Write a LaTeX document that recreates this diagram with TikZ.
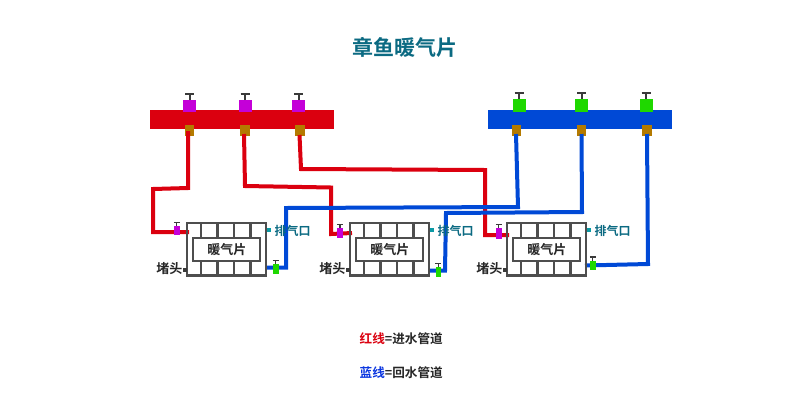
\documentclass[tikz,border=0pt]{standalone}
\usepackage{fontspec}
\setmainfont{Noto Sans CJK SC}[BoldFont={Noto Sans CJK SC Bold}]
\definecolor{pipered}{HTML}{DB000F}
\definecolor{pipeblue}{HTML}{0049D6}
\definecolor{vmag}{HTML}{C400D8}
\definecolor{vgreen}{HTML}{1FD800}
\definecolor{brass}{HTML}{B47A00}
\definecolor{tealt}{HTML}{0B6A82}
\definecolor{tealp}{HTML}{0A9AA5}
\definecolor{dk}{HTML}{3A3A3A}
\definecolor{legblue}{HTML}{0A35E0}
\tikzset{
 x=1pt,y=-1pt,
 box/.style={inner sep=0,outer sep=0,draw=none,anchor=north west},
 redpipe/.style={draw=pipered,line width=4pt,miter limit=10},
 bluepipe/.style={draw=pipeblue,line width=4pt,miter limit=10},
 lbl/.style={font=\bfseries\fontsize{13}{13}\selectfont,text=black!85,inner sep=0},
 leg/.style={font=\bfseries\fontsize{12.6}{13}\selectfont,text=black!85,inner sep=0},
 vent/.style={font=\bfseries\fontsize{12}{12}\selectfont,text=tealt,inner sep=0},
 handle/.style={draw=dk,line width=2pt},
 rad/.style={draw=dk!90,line width=2.2pt},
}
\newcommand{\rect}[6]{\node[box,fill=#2,minimum width=#5pt-#3pt,minimum height=#6pt-#4pt] (#1) at (#3,#4) {};}
\newcommand{\bigvalve}[6]{% name colour x1 y1 x2 y2
 \rect{#1}{#2}{#3}{#4}{#5}{#6}
 \draw[handle] (#1.north) -- ++(0,-6);
 \draw[handle,line width=2.4pt] ([xshift=-4.5pt,yshift=6pt]#1.north) -- ([xshift=4.5pt,yshift=6pt]#1.north);}
\newcommand{\smallvalve}[6]{%
 \rect{#1}{#2}{#3}{#4}{#5}{#6}
 \draw[handle,line width=1.2pt] (#1.north) -- ++(0,-3.5);
 \draw[handle,line width=1.4pt] ([xshift=-3pt,yshift=3.5pt]#1.north) -- ([xshift=3pt,yshift=3.5pt]#1.north);}
\newcommand{\radiator}[2]{% name, left x
 \begin{scope}[shift={(#2,0)}]
 \node[box,rad,minimum width=79pt,minimum height=52.5pt] (#1) at (0,223) {};
 \foreach \v in {14,30.5,47,63.5}{
  \draw[rad] (\v,223) -- (\v,275.5);}
 \node[box,rad,fill=white,minimum width=67pt,minimum height=23.5pt] (#1in) at (6.3,237.7) {};
 \node[lbl] at (#1in.center) {暖气片};
 \node[box,fill=tealp,minimum width=4pt,minimum height=3.5pt] (#1vent) at (80,228) {};
 \node[box,fill=dk,minimum width=4pt,minimum height=3.5pt] (#1plug) at (-4,268) {};
 \node[vent,anchor=west] at (87.5,230.5) {排气口};
 \node[lbl,anchor=east] at (-4.5,269) {堵头};
 \end{scope}}
\begin{document}
\begin{tikzpicture}
\useasboundingbox (0,0) rectangle (800,400);
\fill[white] (0,0) rectangle (800,400);
\node[font=\bfseries\fontsize{21}{21}\selectfont,text=tealt,inner sep=0] (title) at (404.5,47) {章鱼暖气片};

% named connector ends
\coordinate (r1a) at (188,131); \coordinate (r1e) at (189,232);
\coordinate (r2a) at (244,134); \coordinate (r2e) at (352,233);
\coordinate (r3a) at (299.5,135); \coordinate (r3e) at (509,235);
\coordinate (b1a) at (516,134); \coordinate (b1e) at (265,267.5);
\coordinate (b2a) at (581.5,134); \coordinate (b2e) at (428,270.5);
\coordinate (b3a) at (647,134); \coordinate (b3e) at (585,265.5);

% manifolds
\rect{rbar}{pipered}{150}{109.5}{334}{128.5}
\rect{bbar}{pipeblue}{487.5}{109.5}{671.5}{128.5}
\bigvalve{rv1}{vmag}{183}{100}{196}{112}
\bigvalve{rv2}{vmag}{238.5}{100}{251.5}{112}
\bigvalve{rv3}{vmag}{292}{100}{305}{112}
\bigvalve{bv1}{vgreen}{512.5}{99}{525.5}{111.5}
\bigvalve{bv2}{vgreen}{575}{99}{588}{111.5}
\bigvalve{bv3}{vgreen}{639.5}{99}{652.5}{111.5}
\rect{rs1}{brass}{184.5}{124.5}{194}{135.5}
\rect{rs2}{brass}{240}{124.5}{249.5}{135.5}
\rect{rs3}{brass}{295}{124.5}{304.5}{135.5}
\rect{bs1}{brass}{511.5}{124.5}{521}{135.5}
\rect{bs2}{brass}{576.5}{124.5}{586}{135.5}
\rect{bs3}{brass}{642}{124.5}{651.5}{135.5}

% pipes
\draw[redpipe] (r1a) -- (188,188) -- (153,189) -- (153,232) -- (r1e);
\draw[redpipe] (r2a) -- (245,186) -- (331,187.5) -- (331,234) -- (r2e);
\draw[redpipe] (r3a) -- (301,169) -- (485,170) -- (485,235) -- (r3e);
\draw[bluepipe] (b1a) -- (518,207) -- (286,208) -- (286,267.5) -- (b1e);
\draw[bluepipe] (b2a) -- (582,212) -- (446,213) -- (445,270.5) -- (b2e);
\draw[bluepipe] (b3a) -- (648,264) -- (b3e);

\radiator{ra}{187}
\radiator{rb}{350}
\radiator{rc}{507}

\smallvalve{sm1}{vmag}{174}{226}{179.5}{235}
\smallvalve{sg1}{vgreen}{272.5}{264}{278.5}{273.5}
\smallvalve{sm2}{vmag}{337}{228}{343}{238}
\smallvalve{sg2}{vgreen}{435.5}{267}{441}{276.5}
\smallvalve{sm3}{vmag}{496}{228}{501.5}{238.5}
\smallvalve{sg3}{vgreen}{589.5}{260.5}{596}{270}

\node[leg,anchor=west] (lg1) at (359.5,339) {\textcolor{pipered}{红线}=进水管道};
\node[leg,anchor=west] (lg2) at (359.5,372.5) {\textcolor{legblue}{蓝线}=回水管道};
\end{tikzpicture}
\end{document}
